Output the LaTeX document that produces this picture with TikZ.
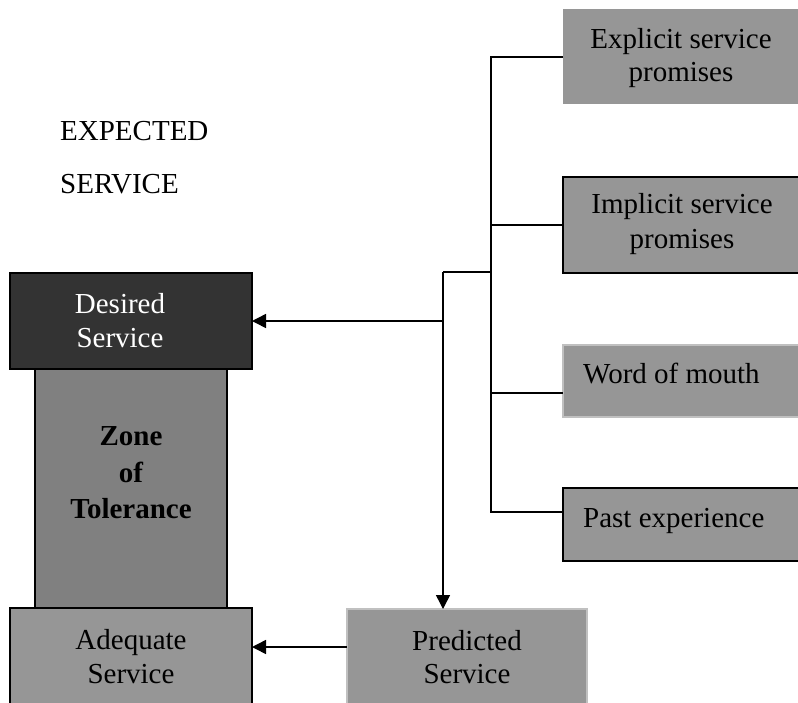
\documentclass[tikz,border=0pt]{standalone}
\usepackage{fontspec}
\setmainfont{Liberation Serif}
\usetikzlibrary{arrows.meta,calc}
\definecolor{boxgray}{HTML}{969696}
\definecolor{zonegray}{HTML}{808080}
\definecolor{darkbox}{HTML}{333333}
\definecolor{edgegray}{HTML}{C0C0C0}

\begin{document}
\begin{tikzpicture}[x=1pt,y=-1pt,
  lbl/.style={font=\fontsize{29}{35}\selectfont, inner sep=0pt, anchor=base},
  panel/.style={anchor=north west, inner sep=0pt, outer sep=0pt, line width=1.5pt},
  wire/.style={line width=1.5pt},
  arrowline/.style={wire, -{Triangle[length=14pt,width=14pt]}}]
\useasboundingbox (0,0) rectangle (798,702);
\clip (0,0) rectangle (798,702);

% left column: desired level, zone of tolerance, adequate level
\node[panel, draw=black, fill=zonegray, minimum width=192pt, minimum height=239pt] (zone) at (35,369) {};
\node[panel, draw=black, fill=darkbox, minimum width=242pt, minimum height=96pt] (desired) at (10,273) {};
\node[panel, draw=black, fill=boxgray, minimum width=242pt, minimum height=110pt] (adequate) at (10,608) {};

% predicted service
\node[panel, draw=edgegray, fill=boxgray, minimum width=240pt, minimum height=110pt] (predicted) at (347,609) {};

% sources of expectations
\node[panel, fill=boxgray, minimum width=250pt, minimum height=95pt] (explicit) at (563,9) {};
\node[panel, draw=black, fill=boxgray, minimum width=250pt, minimum height=96pt] (implicit) at (563,177) {};
\node[panel, draw=edgegray, fill=boxgray, minimum width=250pt, minimum height=72pt] (word) at (563,345) {};
\node[panel, draw=black, fill=boxgray, minimum width=250pt, minimum height=73pt] (past) at (563,488) {};

% labels
\node[lbl, anchor=base west] (exp1) at (60,140) {EXPECTED};
\node[lbl, anchor=base west] (exp2) at (60,193) {SERVICE};

\node[lbl, text=white] (des1) at (120,313) {Desired};
\node[lbl, text=white] (des2) at (120,347) {Service};

\node[lbl, font=\fontsize{29}{35}\selectfont\bfseries] (zon1) at (131,445) {Zone};
\node[lbl, font=\fontsize{29}{35}\selectfont\bfseries] (zon2) at (131,482) {of};
\node[lbl, font=\fontsize{29}{35}\selectfont\bfseries] (zon3) at (131,518) {Tolerance};

\node[lbl] (ade1) at (131,649) {Adequate};
\node[lbl] (ade2) at (131,683) {Service};

\node[lbl] (pre1) at (467,650) {Predicted};
\node[lbl] (pre2) at (467,683) {Service};

\node[lbl] (exl1) at (681,48) {Explicit service};
\node[lbl] (exl2) at (681,81) {promises};
\node[lbl] (iml1) at (682,213) {Implicit service};
\node[lbl] (iml2) at (682,248) {promises};
\node[lbl, anchor=base west] (wom) at (583,383) {Word of mouth};
\node[lbl, anchor=base west] (pex) at (583,527) {Past experience};

% collecting bus on the right
\coordinate (busTop) at (491,57);
\coordinate (busBot) at (491,512);
\coordinate (busTap) at (491,272);
\coordinate (split) at (443,272);
\coordinate (desTap) at (443,321);

\draw[wire] (explicit.west |- busTop) -- (busTop) -- (busBot) -- ($(past.north west)+(0,24)$);
\draw[wire] (busTop |- implicit.west) -- (implicit.west);
\draw[wire] (busTop |- {$(word.north west)+(0,48)$}) -- ($(word.north west)+(0,48)$);
\draw[wire] (busTap) -- (split);

% arrows to the expectation levels
\draw[arrowline] (split) -- ($(predicted.north west)+(96,0)$);
\draw[arrowline] (desTap) -- (desired.east);
\draw[arrowline] ($(predicted.north west)+(0,38)$) -- ($(adequate.north east)+(0,39)$);
\end{tikzpicture}
\end{document}
